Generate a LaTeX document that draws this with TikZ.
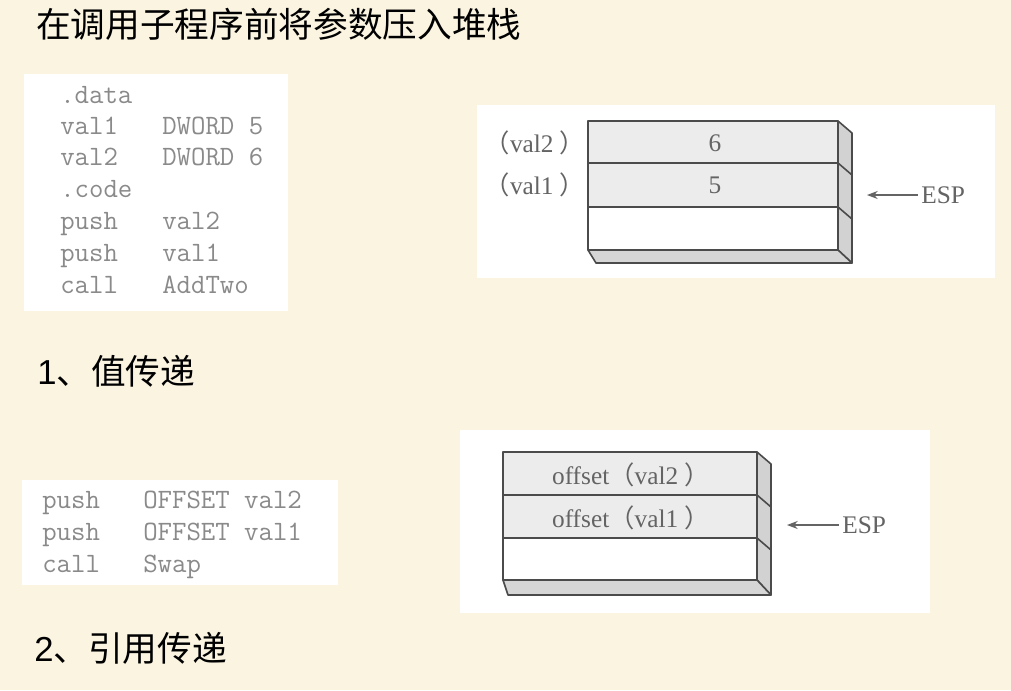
\documentclass[tikz,border=0pt]{standalone}
\usepackage{fontspec}
\setmainfont{Liberation Serif}
\newfontfamily\cjk{Noto Sans CJK SC}
\newfontfamily\arialf{Liberation Sans}
\usetikzlibrary{arrows.meta}
\definecolor{bg}{RGB}{250,244,225}
\definecolor{codegray}{RGB}{138,138,138}
\definecolor{stackgray}{RGB}{100,100,100}
\definecolor{linegray}{RGB}{75,75,75}
\definecolor{rowgray}{RGB}{236,236,236}
\definecolor{sidegray}{RGB}{210,210,210}
\definecolor{botgray}{RGB}{214,214,214}
\begin{document}
\begin{tikzpicture}[x=0.75pt,y=-0.75pt,
  code/.style={anchor=base west,inner sep=0,font=\ttfamily\fontsize{21}{24}\selectfont,text=codegray},
  heading/.style={anchor=west,inner sep=0,font=\cjk\fontsize{26}{30}\selectfont,text=black},
  lbl/.style={inner sep=0,font=\fontsize{19}{22}\selectfont,text=stackgray},
  edge/.style={draw=linegray,line width=1.2pt,line join=round},
  ptr/.style={draw=stackgray,line width=1pt,shorten <=2.5pt,-{Stealth[length=8pt,width=6pt]}}]
\fill[bg] (0,0) rectangle (1011,690);
\useasboundingbox (0,0) rectangle (1011,690);

% headings
\node[heading] (title) at (36,24) {在调用子程序前将参数压入堆栈};
\node[heading] (h1) at (37,371) {{\arialf 1}、值传递};
\node[heading] (h2) at (34,648) {{\arialf 2}、引用传递};

% code box 1
\fill[white] (24,74) rectangle (288,311);
\node[code] (a1) at (60,103) {.data};
\node[code] (a2) at (60,134) {val1};
\node[code] (a2b) at (162,134) {DWORD 5};
\node[code] (a3) at (60,165) {val2};
\node[code] (a3b) at (162,165) {DWORD 6};
\node[code] (a4) at (60,197) {.code};
\node[code] (a5) at (60,229) {push};
\node[code] (a5b) at (162,229) {val2};
\node[code] (a6) at (60,261) {push};
\node[code] (a6b) at (162,261) {val1};
\node[code] (a7) at (60,293) {call};
\node[code] (a7b) at (162,293) {AddTwo};

% code box 2
\fill[white] (22,480) rectangle (338,585);
\node[code] (b1) at (42,508) {push};
\node[code] (b1b) at (143,508) {OFFSET val2};
\node[code] (b2) at (42,540) {push};
\node[code] (b2b) at (143,540) {OFFSET val1};
\node[code] (b3) at (42,572) {call};
\node[code] (b3b) at (143,572) {Swap};

% stack 1
\fill[white] (477,105) rectangle (995,278);
\fill[rowgray] (588,121) rectangle (838,207);
\fill[white] (588,207) rectangle (838,250);
\filldraw[fill=sidegray,edge] (838,121) -- (852,133) -- (852,263) -- (838,250) -- cycle;
\filldraw[fill=botgray,edge] (588,250) -- (838,250) -- (852,263) -- (596,263) -- cycle;
\draw[edge] (588,121) rectangle (838,250);
\draw[edge] (588,163) -- (838,163) -- (852,175);
\draw[edge] (588,207) -- (838,207) -- (852,219);
\node[lbl] (s6) at (715,143) {6};
\node[lbl] (s5) at (715,185) {5};
\node[lbl] (l2) at (535,143) {{\cjk （}val2 {\cjk ）}};
\node[lbl] (l1) at (535,185) {{\cjk （}val1 {\cjk ）}};
\node[lbl,anchor=west] (esp1) at (921,195) {ESP};
\coordinate (tip1) at (867,195);
\draw[ptr] (esp1.west) -- (tip1);

% stack 2
\fill[white] (460,430) rectangle (930,613);
\fill[rowgray] (503,452) rectangle (757,538);
\fill[white] (503,538) rectangle (757,580);
\filldraw[fill=sidegray,edge] (757,452) -- (771,464) -- (771,595) -- (757,580) -- cycle;
\filldraw[fill=botgray,edge] (503,580) -- (757,580) -- (771,595) -- (508,595) -- cycle;
\draw[edge] (503,452) rectangle (757,580);
\draw[edge] (503,495) -- (757,495) -- (771,507);
\draw[edge] (503,538) -- (757,538) -- (771,550);
\node[lbl] (o2) at (631,475) {offset{\cjk （}val2 {\cjk ）}};
\node[lbl] (o1) at (631,518) {offset{\cjk （}val1 {\cjk ）}};
\node[lbl,anchor=west] (esp2) at (842,525) {ESP};
\coordinate (tip2) at (787,525);
\draw[ptr] (esp2.west) -- (tip2);
\end{tikzpicture}
\end{document}
